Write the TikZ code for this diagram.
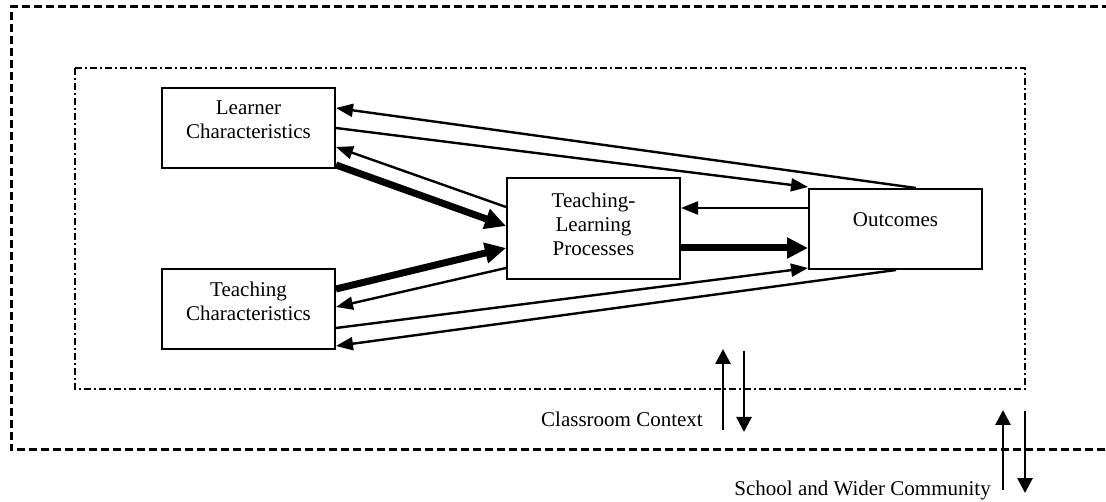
\documentclass[tikz,border=0pt]{standalone}
\usepackage{fontspec}
\setmainfont{Liberation Serif}
\usetikzlibrary{arrows.meta,calc}
\begin{document}
\begin{tikzpicture}[x=1pt,y=-1pt,
  box/.style={draw,line width=2pt,minimum width=173pt,inner sep=0pt},
  lbl/.style={font=\fontsize{21}{24}\selectfont,align=center,inner sep=0pt},
  thin/.style={line width=2.4pt,-{Triangle[length=17pt,width=13pt]}},
  thick/.style={line width=7pt,-{Triangle[length=21pt,width=20pt]}},
  vert/.style={line width=2.8pt,-{Triangle[length=15pt,width=15pt]}},
  outer/.style={line width=3pt,dash pattern=on 8pt off 4pt},
  inner/.style={line width=2.6pt,dash pattern=on 7pt off 3pt on 2pt off 3pt}]
\useasboundingbox (0,0) rectangle (1106,502);
\draw[outer] (1110,7) -- (11,7) -- (11,450) -- (1110,450);
\draw[inner] (75,68) rectangle (1025,389);
% boxes
\node[box,minimum height=80pt] (L) at (248.5,128) {};
\node[box,minimum height=80pt] (T) at (248.5,309) {};
\node[box,minimum height=101pt] (P) at (593.5,228.5) {};
\node[box,minimum height=80pt] (O) at (895.5,229) {};
% texts
\node[lbl] (Lt) at (248.5,120) {Learner\\Characteristics};
\node[lbl] (Tt) at (248.5,301) {Teaching\\Characteristics};
\node[lbl] (Pt) at (593.5,224.5) {Teaching-\\Learning\\Processes};
\node[lbl] (Ot) at (895.5,220) {Outcomes};
% connectors
\draw[thin] ($(O.north west)+(108,0)$) -- ($(L.north east)+(0,21)$);
\draw[thin] ($(L.north east)+(0,41)$) -- ($(O.north west)+(0,-1)$);
\draw[thin] ($(P.north west)+(0,30)$) -- ($(L.north east)+(0,60)$);
\draw[thick] ($(L.north east)+(0,78)$) -- ($(P.north west)+(0,49)$);
\draw[thick] ($(T.north east)+(0,21)$) -- ($(P.north west)+(0,71)$);
\draw[thin] ($(P.north west)+(0,91)$) -- ($(T.north east)+(0,39)$);
\draw[thin] ($(T.north east)+(0,60)$) -- ($(O.south west)+(0,-2)$);
\draw[thin] ($(O.south west)+(88,0)$) -- ($(T.north east)+(0,78)$);
\draw[thin] ($(O.north west)+(0,20)$) -- ($(P.north east)+(0,31)$);
\draw[thick] ($(P.north east)+(0,71)$) -- ($(O.north west)+(0,60)$);
% context arrows
\coordinate (cu1) at (723,430); \coordinate (cu2) at (723,349);
\coordinate (cd1) at (744,351); \coordinate (cd2) at (744,432);
\coordinate (su1) at (1003,490); \coordinate (su2) at (1003,410);
\coordinate (sd1) at (1025,411); \coordinate (sd2) at (1025,493);
\draw[vert] (cu1) -- (cu2);
\draw[vert] (cd1) -- (cd2);
\draw[vert] (su1) -- (su2);
\draw[vert] (sd1) -- (sd2);
\node[lbl,anchor=base east] (cc) at (703,427) {Classroom Context};
\node[lbl,anchor=base east] (sw) at (991,495) {School and Wider Community};
\end{tikzpicture}
\end{document}
